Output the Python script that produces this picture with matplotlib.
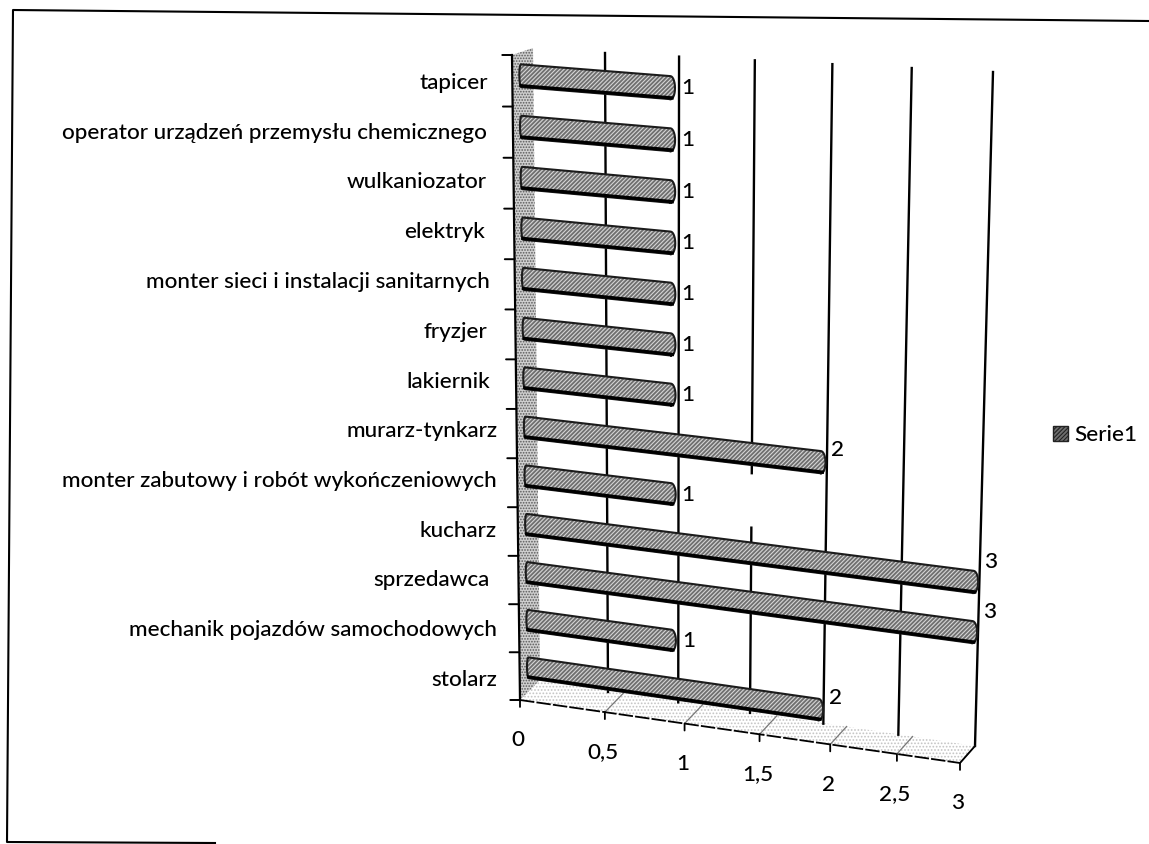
import numpy as np
import matplotlib
matplotlib.use('Agg')
import matplotlib.pyplot as plt
from matplotlib.patches import Patch, Polygon
from matplotlib.transforms import Transform

plt.rcParams['font.family'] = ['Lato', 'DejaVu Sans']
plt.rcParams['font.weight'] = 'medium'
plt.rcParams['hatch.linewidth'] = 0.8

# dane z wykresu, od dolu do gory
zawody = ['stolarz', 'mechanik pojazdów samochodowych', 'sprzedawca', 'kucharz',
          'monter zabutowy i robót wykończeniowych', 'murarz-tynkarz', 'lakiernik',
          'fryzjer', 'monter sieci i instalacji sanitarnych', 'elektryk',
          'wulkaniozator', 'operator urządzeń przemysłu chemicznego', 'tapicer']
wartosci = [2, 1, 3, 3, 1, 2, 1, 1, 1, 1, 1, 1, 1]
os_x = [0, 0.5, 1, 1.5, 2, 2.5, 3]
os_x_opisy = ['0', '0,5', '1', '1,5', '2', '2,5', '3']
seria = 'Serie1'

# prawe krawedzie opisow, tak jak na skanie
opisy_prawo = [497, 497, 490, 497, 497, 498, 490, 487, 490, 485, 487, 487, 488]
FS = 16.2


class Persp(Transform):
    # rzut perspektywiczny: cztery narozniki -> piksele obrazka
    input_dims = 2
    output_dims = 2

    def __init__(self, src, dst):
        super().__init__()
        A, b = [], []
        for (x, y), (u, v) in zip(src, dst):
            A.append([x, y, 1, 0, 0, 0, -u * x, -u * y])
            A.append([0, 0, 0, x, y, 1, -v * x, -v * y])
            b += [u, v]
        self.H = np.append(np.linalg.solve(np.array(A, float), np.array(b, float)), 1).reshape(3, 3)

    def transform_non_affine(self, values):
        values = np.asarray(values, float)
        p = np.column_stack([values, np.ones(len(values))]) @ self.H.T
        return p[:, :2] / p[:, 2:]


fig = plt.figure(figsize=(11.49, 8.44), dpi=100)
ax = fig.add_axes([0, 0, 1, 1])
ax.set_xlim(0, 1149)
ax.set_ylim(844, 0)
ax.axis('off')

n = len(zawody)
t_bar = Persp([(1, 0), (3, 0), (1, n - 1), (3, n - 1)],
              [(676, 689), (975, 732), (675, 88), (988, 113)]) + ax.transData
t_wall = Persp([(0.5, 0), (3, 0), (0.5, 1), (3, 1)],
               [(608, 692), (975, 746), (605, 53), (993, 72)]) + ax.transData
t_floor = Persp([(0, 0), (3, 0), (0, 1), (3, 1)],
                [(520, 700), (960, 763), (540, 680), (975, 746)]) + ax.transData
t_side = Persp([(0, 0), (1, 0), (0, 1), (1, 1)],
               [(520, 700), (540, 680), (512, 55), (533, 48)]) + ax.transData

# ramka skanu, lekko przekrzywiona
ax.plot([215, 7, 13, 1149], [843, 842, 10, 21], color='black', lw=1.5, zorder=1)

# podloga i sciana boczna
ax.add_patch(Polygon([(0, 0), (3, 0), (3, 1), (0, 1)], closed=True, transform=t_floor,
                     facecolor='white', edgecolor='#c4c4c4', hatch='.....', lw=0, zorder=2))
ax.add_patch(Polygon([(0, 0), (1, 0), (1, 1), (0, 1)], closed=True, transform=t_side,
                     facecolor='#cfcfcf', edgecolor='#5a5a5a', hatch='......', lw=0, zorder=2))

# siatka
for v in os_x[1:]:
    if v == 1.5:
        # na skanie kawalek tej linii zanika
        ax.plot([v, v], [0, 0.295], color='black', lw=1.7, transform=t_wall, zorder=3)
        ax.plot([v, v], [0.38, 1], color='black', lw=1.7, transform=t_wall, zorder=3)
    else:
        ax.plot([v, v], [0, 1], color='black', lw=1.7, transform=t_wall, zorder=3)
    ax.plot([v, v], [0, 1], color='#777777', lw=0.9, transform=t_floor, zorder=3)

# osie
ax.plot([0, 0], [0, 1], color='black', lw=1.6, transform=t_side, zorder=4)
ax.plot([0, 3], [0, 0], color='black', lw=1.3, ls=(0, (8, 1.2)), transform=t_floor, zorder=4)
ax.plot([3, 3], [0, 1], color='black', lw=1.3, transform=t_floor, zorder=4)
for k in range(n + 1):
    ax.annotate('', xy=(0, k / n), xycoords=t_side, xytext=(-7, 0), textcoords='offset points',
                arrowprops=dict(arrowstyle='-', color='black', lw=1.4, shrinkA=0, shrinkB=0))

for v, s in zip(os_x, os_x_opisy):
    ax.annotate('', xy=(v, 0), xycoords=t_floor, xytext=(0, -5), textcoords='offset points',
                arrowprops=dict(arrowstyle='-', color='black', lw=1.3, shrinkA=0, shrinkB=0))
    ax.annotate(s, xy=(v, 0), xycoords=t_floor, xytext=(-1.5, -29), textcoords='offset points',
                ha='center', va='center', fontsize=FS, color='black')

# slupki
pol = 0.22
start = -0.045  # podstawa slupka wchodzi lekko w sciane
kat = np.linspace(-np.pi / 2, np.pi / 2, 15)
for i, (z, w) in enumerate(zip(zawody, wartosci)):
    # oba konce zaokraglone
    xs = np.r_[w - 0.03 + 0.03 * np.cos(kat), start + 0.012 - 0.012 * np.cos(kat)[::-1]]
    ys = np.r_[i + pol * np.sin(kat), i + pol * np.sin(kat)[::-1]]
    ax.add_patch(Polygon(np.column_stack([xs, ys]), closed=True, transform=t_bar, facecolor='#6f6f6f',
                         edgecolor='#d6d6d6', hatch='////////', lw=0, zorder=5))
    ax.plot(np.r_[xs, xs[0]], np.r_[ys, ys[0]], color='#1c1c1c', lw=1.5, transform=t_bar, zorder=6)
    ax.plot([start + 0.01, w - 0.02], [i - pol + 0.025, i - pol + 0.025], color='black', lw=2.4,
            transform=t_bar, zorder=6)

    # etykiety wartosci
    dy = {1: 0, 2: 9, 3: 15}[w]
    ax.annotate(str(w), xy=(w, i), xycoords=t_bar, xytext=(9, dy), textcoords='offset points',
                ha='center', va='center', fontsize=FS, color='black', zorder=7)

    # opisy kategorii
    ax.text(opisy_prawo[i], 680 - 49.75 * i, z, ha='right', va='center', fontsize=FS, color='black')

# legenda
ax.legend(handles=[Patch(facecolor='#6f6f6f', edgecolor='#222222', hatch='////////', label=seria)],
          loc='center left', bbox_to_anchor=(1053 / 1149, 1 - 435 / 844), frameon=False,
          fontsize=FS, handlelength=0.66, handleheight=0.66, handletextpad=0.3,
          borderpad=0, borderaxespad=0)

plt.savefig('out.png', dpi=100)
